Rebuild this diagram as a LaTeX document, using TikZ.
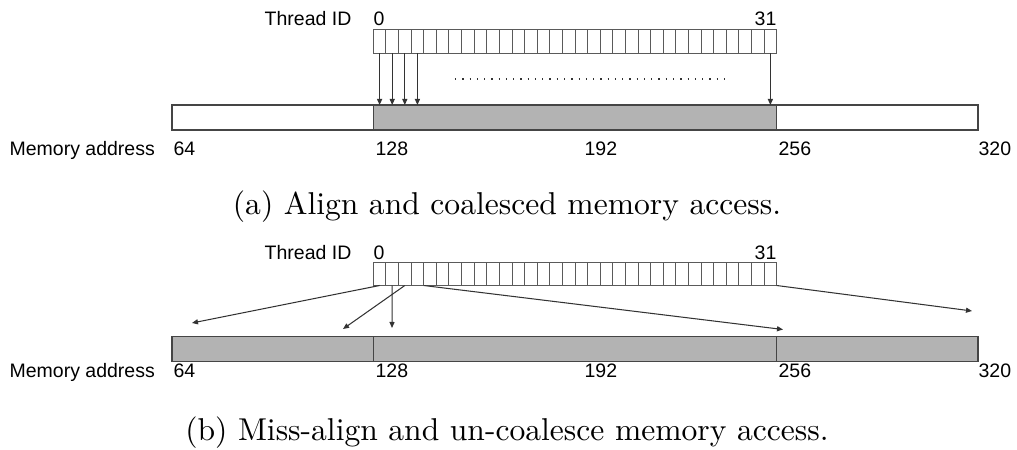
\documentclass[tikz,border=0pt]{standalone}
\usepackage{fontspec}
\newfontfamily\labsans{Liberation Sans}
\usetikzlibrary{arrows.meta}
\definecolor{barfill}{HTML}{B3B3B3}
\definecolor{barline}{HTML}{454545}
\definecolor{cellline}{HTML}{5A5A5A}
\definecolor{arrowc}{HTML}{333333}
\begin{document}
\begin{tikzpicture}[x=0.3165pt,y=-0.3165pt,
  cell/.style={draw=cellline, line width=0.28pt, inner sep=0pt, outer sep=0pt,
    minimum width=3.990pt, minimum height=7.44pt, anchor=north west},
  seg/.style={draw=barline, line width=0.35pt, inner sep=0pt, outer sep=0pt,
    minimum height=7.91pt, anchor=north west},
  sideseg/.style={seg, minimum width=63.71pt},
  midseg/.style={seg, minimum width=127.68pt},
  lab/.style={font=\labsans\fontsize{6.17pt}{7pt}\selectfont, inner sep=0pt, anchor=base west},
  captext/.style={font=\fontsize{10pt}{12pt}\selectfont, inner sep=0pt, anchor=base},
  acc/.style={draw=arrowc, line width=0.33pt, -{Triangle[length=1.9pt,width=1.6pt]}},
  dots/.style={draw=arrowc, line width=0.4pt, dash pattern=on 0.4pt off 1.9pt}
]
\useasboundingbox (0,0) rectangle (1017,450);

% ---------- (a) ----------
\node[lab, anchor=base east] (tida) at (352,26) {Thread ID};
\node[lab] (zeroa) at (373,26) {0};
\node[lab, anchor=base east] (thirtyonea) at (777,26) {31};
\foreach \i in {0,...,31} {
  \node[cell] (a\i) at ({373.3+12.606*\i},29.5) {};
}
\node[sideseg] (ma1) at (172,105) {};
\node[midseg, fill=barfill] (ma2) at (373.3,105) {};
\node[sideseg] (ma3) at (776.7,105) {};
\foreach \i in {0,1,2,3,31} {
  \draw[acc] (a\i.south) -- (a\i.south |- ma2.north);
}
\coordinate (dotl) at (455,79);
\coordinate (dotr) at (730,79);
\draw[dots] (dotl) -- (dotr);
\node[lab] (mema) at (9,156) {Memory address};
\node[lab] (a64) at (173,156) {64};
\node[lab] (a128) at (375,156) {128};
\node[lab] (a192) at (584,156) {192};
\node[lab] (a256) at (778,156) {256};
\node[lab] (a320) at (978,156) {320};
\node[captext] (capa) at (507,215) {(a) Align and coalesced memory access.};

% ---------- (b) ----------
\node[lab, anchor=base east] (tidb) at (352,260) {Thread ID};
\node[lab] (zerob) at (373,260) {0};
\node[lab, anchor=base east] (thirtyoneb) at (777,260) {31};
\foreach \i in {0,...,31} {
  \node[cell] (b\i) at ({373.3+12.606*\i},262) {};
}
\node[sideseg, fill=barfill] (mb1) at (172,336.5) {};
\node[midseg, fill=barfill] (mb2) at (373.3,336.5) {};
\node[sideseg, fill=barfill] (mb3) at (776.7,336.5) {};
\coordinate (e0) at (192,323);
\coordinate (e1) at (392,328);
\coordinate (e2) at (343,329);
\coordinate (e3) at (783,329.5);
\coordinate (e4) at (972,311);
\draw[acc] (b0.south) -- (e0);
\draw[acc] (b1.south) -- (e1);
\draw[acc] (b2.south) -- (e2);
\draw[acc] (b4.south west) -- (e3);
\draw[acc] (b31.south east) -- (e4);
\node[lab] (memb) at (9,378) {Memory address};
\node[lab] (b64) at (173,378) {64};
\node[lab] (b128) at (375,378) {128};
\node[lab] (b192) at (584,378) {192};
\node[lab] (b256) at (778,378) {256};
\node[lab] (b320) at (978,378) {320};
\node[captext] (capb) at (507,441) {(b) Miss-align and un-coalesce memory access.};
\end{tikzpicture}
\end{document}
